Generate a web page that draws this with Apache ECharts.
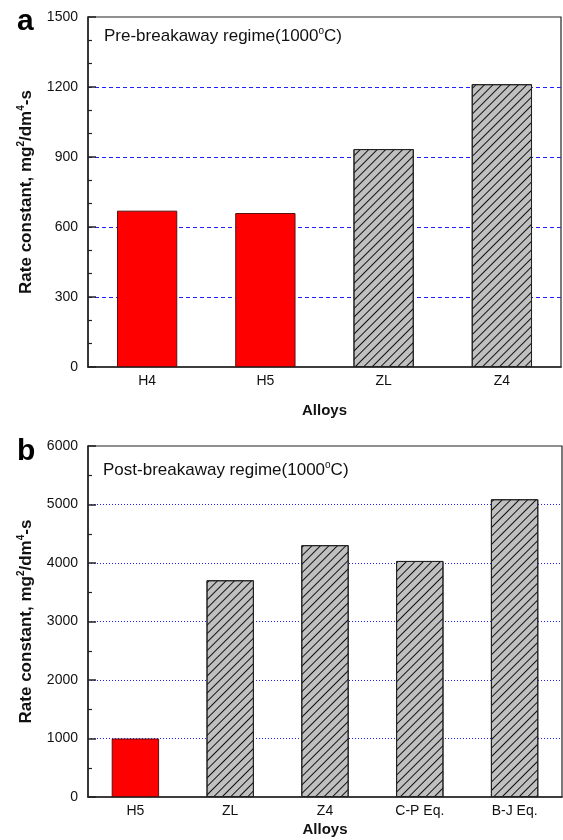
<!DOCTYPE html>
<html>
<head>
<meta charset="utf-8">
<script src="https://cdn.jsdelivr.net/npm/echarts@6/dist/echarts.min.js"></script>
<style>
  html, body { margin: 0; padding: 0; background: #fff; }
  #chart { width: 563px; height: 840px; }
</style>
</head>
<body>
<div id="chart"></div>
<script>
// panel a: pre-breakaway
const alloysA = ['H4', 'H5', 'ZL', 'Z4'];
const rateA = [670, 660, 934, 1212];
const yTicksA = [0, 300, 600, 900, 1200, 1500];

// panel b: post-breakaway
const alloysB = ['H5', 'ZL', 'Z4', 'C-P Eq.', 'B-J Eq.'];
const rateB = [1000, 3705, 4305, 4035, 5090];
const yTicksB = [0, 1000, 2000, 3000, 4000, 5000, 6000];

const FONT = 'Liberation Sans, Arial, Helvetica, sans-serif';
const chart = echarts.init(document.getElementById('chart'));

// Hf alloys in red, the rest hatched grey
const hatch = {
  symbol: 'rect',
  symbolSize: 1,
  dashArrayX: [1, 0],
  dashArrayY: [1, 5],
  rotation: -Math.PI / 4,
  color: '#111',
  backgroundColor: 'transparent'
};
function barData(names, vals) {
  return vals.map((v, i) => {
    const isHf = names[i].charAt(0) === 'H';
    return {
      value: v,
      itemStyle: isHf
        ? { color: '#ff0000', borderColor: '#5a1010', borderWidth: 1 }
        : { color: '#c0c0c0', borderColor: '#222', borderWidth: 1, decal: hatch }
    };
  });
}

const richName = {
  t: { fontSize: 17, fontWeight: 'bold', fontFamily: FONT, color: '#111', lineHeight: 20 },
  s: { fontSize: 10, fontWeight: 'bold', fontFamily: FONT, color: '#111', verticalAlign: 'top', lineHeight: 20 }
};
const richTitle = {
  t: { fontSize: 17, fontWeight: 'normal', fontFamily: FONT, color: '#111', lineHeight: 20 },
  s: { fontSize: 10, fontWeight: 'normal', fontFamily: FONT, color: '#111', verticalAlign: 'top', lineHeight: 20 }
};

function xAxes(gridIndex, cats, gap) {
  return [
    {
      type: 'category', gridIndex: gridIndex, data: cats, position: 'bottom',
      name: 'Alloys', nameLocation: 'middle', nameGap: gap,
      nameTextStyle: { fontSize: 15, fontWeight: 'bold', fontFamily: FONT, color: '#111' },
      axisLine: { lineStyle: { color: '#222', width: 1.5 } },
      axisTick: { inside: true, length: 4, lineStyle: { color: '#222' } },
      axisLabel: { fontSize: 14, fontFamily: FONT, color: '#111', margin: 7 }
    },
    {
      type: 'category', gridIndex: gridIndex, data: cats, position: 'bottom',
      axisLine: { show: false },
      axisTick: { inside: true, length: 7, alignWithLabel: true, lineStyle: { color: '#222' } },
      axisLabel: { show: false }
    }
  ];
}

function yAxis(gridIndex, ticks, minorSplit, dashType) {
  return {
    type: 'value', gridIndex: gridIndex,
    min: ticks[0], max: ticks[ticks.length - 1], interval: ticks[1] - ticks[0],
    name: '{t|Rate constant, mg}{s|2}{t|/dm}{s|4}{t|-s}',
    nameLocation: 'middle', nameGap: 52,
    nameTextStyle: { rich: richName },
    axisLine: { show: true, lineStyle: { color: '#222', width: 1.5 } },
    axisTick: { show: true, inside: true, length: 8, lineStyle: { color: '#222', width: 1.5 } },
    minorTick: { show: true, splitNumber: minorSplit, length: 4, lineStyle: { color: '#222', width: 1.2 } },
    axisLabel: { fontSize: 14, fontFamily: FONT, color: '#111', margin: 10, formatter: v => String(v) },
    splitLine: { show: true, showMinLine: false, showMaxLine: false, lineStyle: { color: '#1f1fff', width: 1, type: dashType } }
  };
}

const option = {
  animation: false,
  backgroundColor: '#fff',
  title: [
    { text: 'a', left: 12, top: 2, textStyle: { fontSize: 30, fontWeight: 'bold', fontFamily: FONT, color: '#000' } },
    { text: 'b', left: 12, top: 432, textStyle: { fontSize: 30, fontWeight: 'bold', fontFamily: FONT, color: '#000' } },
    { text: '{t|Pre-breakaway regime(1000}{s|o}{t|C)}', left: 99, top: 21, textStyle: { rich: richTitle } },
    { text: '{t|Post-breakaway regime(1000}{s|o}{t|C)}', left: 98, top: 455, textStyle: { rich: richTitle } }
  ],
  grid: [
    { left: 88, top: 17, right: 2, height: 350, show: true, borderColor: '#222', borderWidth: 1.2, backgroundColor: 'transparent' },
    { left: 88, top: 446, right: 1, height: 351, show: true, borderColor: '#222', borderWidth: 1.2, backgroundColor: 'transparent' }
  ],
  xAxis: xAxes(0, alloysA, 36).concat(xAxes(1, alloysB, 25)),
  yAxis: [
    yAxis(0, yTicksA, 3, [4, 3]),
    yAxis(1, yTicksB, 2, [1, 2])
  ],
  series: [
    { type: 'bar', xAxisIndex: 0, yAxisIndex: 0, barWidth: '51%', data: barData(alloysA, rateA) },
    { type: 'bar', xAxisIndex: 2, yAxisIndex: 1, barWidth: '50%', data: barData(alloysB, rateB) }
  ]
};

chart.setOption(option);
window.onresize = function() {
  chart.resize();
};
</script>
</body>
</html>
